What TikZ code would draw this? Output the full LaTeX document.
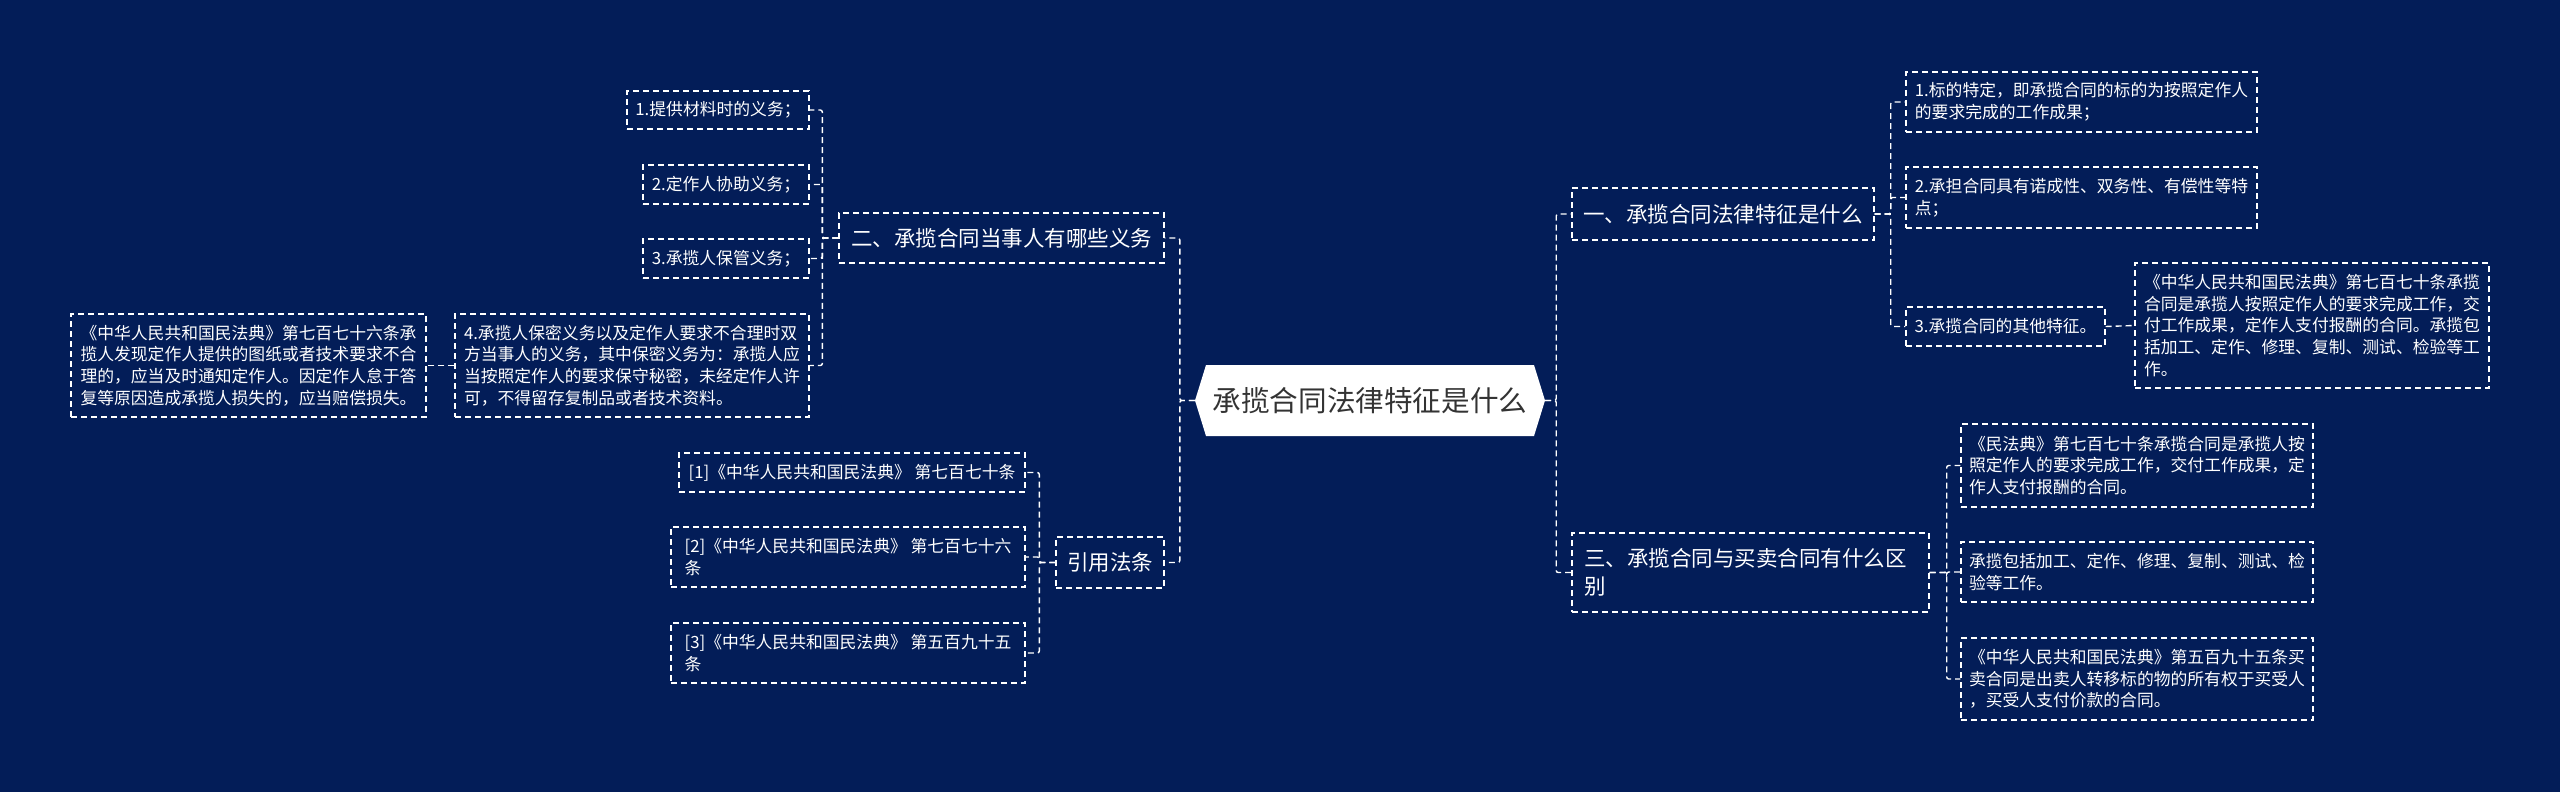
\documentclass[tikz,border=0pt]{standalone}
\usepackage{fontspec}
\setmainfont{Noto Sans CJK SC}
\definecolor{bg}{RGB}{3,29,88}
\definecolor{ctext}{RGB}{51,51,51}
\begin{document}
\begin{tikzpicture}[x=1pt,y=-1pt,
  box/.style={draw=white, line width=1.4pt, dash pattern=on 6pt off 4pt, text=white, align=left, inner xsep=6pt, inner ysep=3pt},
  leaf/.style={box, font=\fontsize{16.8}{21.7}\selectfont},
  branch/.style={box, font=\fontsize{21.5}{28}\selectfont},
  conn/.style={draw=white, line width=1.4pt, dash pattern=on 6pt off 4pt, rounded corners=2pt},
  hexa/.style={fill=bg, text=ctext, inner sep=0pt, font=\fontsize{28.6}{34}\selectfont,
    path picture={\fill[white] (path picture bounding box.west)
      -- ([xshift=11pt]path picture bounding box.north west)
      -- ([xshift=-11pt]path picture bounding box.north east)
      -- (path picture bounding box.east)
      -- ([xshift=-11pt]path picture bounding box.south east)
      -- ([xshift=11pt]path picture bounding box.south west) -- cycle;}}]
\fill[bg] (0,0) rectangle (2560,792);
\useasboundingbox (0,0) rectangle (2560,792);

% center
\node[hexa, minimum width=350pt, minimum height=71pt] (c) at (1370,400.5) {承揽合同法律特征是什么};

% left branch: 二
\node[branch, minimum width=325pt, minimum height=50pt] (B2) at (1001.5,238) {二、承揽合同当事人有哪些义务};
\node[leaf, minimum width=182pt, minimum height=38pt] (L1) at (718,110) {1.提供材料时的义务；};
\node[leaf, minimum width=166pt, minimum height=39pt] (L2) at (726,184.5) {2.定作人协助义务；};
\node[leaf, minimum width=166pt, minimum height=39pt] (L3) at (726,258.5) {3.承揽人保管义务；};
\node[leaf, minimum width=354pt, minimum height=103pt] (L4) at (632,365.5) {4.承揽人保密义务以及定作人要求不合理时双\\方当事人的义务，其中保密义务为：承揽人应\\当按照定作人的要求保守秘密，未经定作人许\\可，不得留存复制品或者技术资料。};
\node[leaf, minimum width=355pt, minimum height=103pt] (L4a) at (248.5,365.5) {《中华人民共和国民法典》第七百七十六条承\\揽人发现定作人提供的图纸或者技术要求不合\\理的，应当及时通知定作人。因定作人怠于答\\复等原因造成承揽人损失的，应当赔偿损失。};

% left branch: 引用法条
\node[branch, minimum width=108pt, minimum height=51pt] (B4) at (1110,562.5) {引用法条};
\node[leaf, minimum width=346pt, minimum height=39pt] (R1) at (852,472.5) {[1]《中华人民共和国民法典》 第七百七十条};
\node[leaf, minimum width=354pt, minimum height=60pt] (R2) at (848,557) {[2]《中华人民共和国民法典》 第七百七十六\\条};
\node[leaf, minimum width=354pt, minimum height=60pt] (R3) at (848,653) {[3]《中华人民共和国民法典》 第五百九十五\\条};

% right branch: 一
\node[branch, minimum width=302pt, minimum height=52pt] (B1) at (1723,214) {一、承揽合同法律特征是什么};
\node[leaf, minimum width=351pt, minimum height=60pt] (C1) at (2081.5,102) {1.标的特定，即承揽合同的标的为按照定作人\\的要求完成的工作成果；};
\node[leaf, minimum width=351pt, minimum height=61pt] (C2) at (2081.5,197.5) {2.承担合同具有诺成性、双务性、有偿性等特\\点；};
\node[leaf, minimum width=199pt, minimum height=39pt] (C3) at (2005.5,326.5) {3.承揽合同的其他特征。};
\node[leaf, minimum width=354pt, minimum height=125pt] (C3a) at (2312,325.5) {《中华人民共和国民法典》第七百七十条承揽\\合同是承揽人按照定作人的要求完成工作，交\\付工作成果，定作人支付报酬的合同。承揽包\\括加工、定作、修理、复制、测试、检验等工\\作。};

% right branch: 三
\node[branch, minimum width=357pt, minimum height=79pt, text width=333pt] (B3) at (1750.5,572.5) {三、承揽合同与买卖合同有什么区\\别};
\node[leaf, minimum width=352pt, minimum height=83pt] (D1) at (2137,465.5) {《民法典》第七百七十条承揽合同是承揽人按\\照定作人的要求完成工作，交付工作成果，定\\作人支付报酬的合同。};
\node[leaf, minimum width=352pt, minimum height=60pt] (D2) at (2137,572) {承揽包括加工、定作、修理、复制、测试、检\\验等工作。};
\node[leaf, minimum width=352pt, minimum height=82pt] (D3) at (2137,679) {《中华人民共和国民法典》第五百九十五条买\\卖合同是出卖人转移标的物的所有权于买受人\\，买受人支付价款的合同。};

% connectors
\draw[conn] (c.west) -- ++(-15,0) |- (B2.east);
\draw[conn] (c.west) -- ++(-15,0) |- (B4.east);
\foreach \n in {L1,L2,L3,L4} \draw[conn] (B2.west) -- ++(-16,0) |- (\n.east);
\draw[conn] (L4.west) -- (L4a.east);
\foreach \n in {R1,R2,R3} \draw[conn] (B4.west) -- ++(-16,0) |- (\n.east);
\draw[conn] (c.east) -- ++(11,0) |- (B1.west);
\draw[conn] (c.east) -- ++(11,0) |- (B3.west);
\foreach \n in {C1,C2,C3} \draw[conn] (B1.east) -- ++(16,0) |- (\n.west);
\draw[conn] (C3.east) -- (C3a.west);
\foreach \n in {D1,D2,D3} \draw[conn] (B3.east) -- ++(17,0) |- (\n.west);
\end{tikzpicture}
\end{document}
